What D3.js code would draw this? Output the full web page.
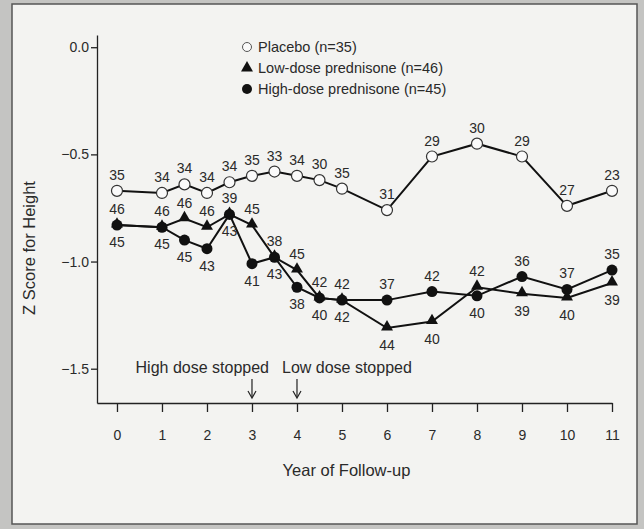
<!DOCTYPE html>
<html lang="en">
<head>
    <meta charset="UTF-8">
    <title>Z Score for Height</title>
    <script src="https://d3js.org/d3.v7.min.js"></script>
    <style>
        body { margin: 0; background: #c4c4c2; }
        svg text { font-family: "Liberation Sans Narrow", "Liberation Sans", Arial, sans-serif; fill: #2a2a2a; }
        .axis path, .axis line { stroke: #222; stroke-width: 1.3; }
        .axis text { font-size: 14px; }
    </style>
</head>
<body>
<svg width="644" height="529"></svg>
<script>
    // years of follow-up (half-year visits early on)
    const years = [0, 1, 1.5, 2, 2.5, 3, 3.5, 4, 4.5, 5, 6, 7, 8, 9, 10, 11];

    // mean Z scores
    const placebo = [-0.67, -0.68, -0.64, -0.68, -0.63, -0.60, -0.58, -0.60, -0.62, -0.66, -0.76, -0.51, -0.45, -0.51, -0.74, -0.67];
    const lowDose = [-0.83, -0.84, -0.80, -0.84, -0.78, -0.83, -0.98, -1.04, -1.17, -1.18, -1.31, -1.28, -1.12, -1.15, -1.17, -1.10];
    const highDose = [-0.83, -0.84, -0.90, -0.94, -0.78, -1.01, -0.98, -1.12, -1.17, -1.18, -1.18, -1.14, -1.16, -1.07, -1.13, -1.04];

    // number of patients at each visit
    const placeboN = [35, 34, 34, 34, 34, 35, 33, 34, 30, 35, 31, 29, 30, 29, 27, 23];
    const lowN = [46, 46, 46, 46, 39, 45, 38, 45, 42, 42, 44, 40, 42, 39, 40, 39];
    const highN = [45, 45, 45, 43, 43, 41, 43, 38, 40, 42, 37, 42, 40, 36, 37, 35];

    const legendLabels = ["Placebo (n=35)", "Low-dose prednisone (n=46)", "High-dose prednisone (n=45)"];
    const xTicks = d3.range(0, 12);
    const yTicks = [0, -0.5, -1.0, -1.5];

    const svg = d3.select("svg");

    // panel with frame
    svg.append("rect")
        .attr("x", 12).attr("y", 4)
        .attr("width", 625).attr("height", 520)
        .attr("fill", "#f3f3f1")
        .attr("stroke", "#555").attr("stroke-width", 1.5);

    const x = d3.scaleLinear().domain([-0.444, 11]).range([97, 612]);
    const y = d3.scaleLinear().domain([-1.66, 0.057]).range([403, 35]);

    // axes
    svg.append("g")
        .attr("class", "axis")
        .attr("transform", "translate(0,403)")
        .call(d3.axisBottom(x).tickValues(xTicks).tickSize(9).tickSizeOuter(0).tickPadding(18));

    svg.append("g")
        .attr("class", "axis")
        .attr("transform", "translate(97,0)")
        .call(d3.axisLeft(y).tickValues(yTicks).tickSize(6).tickSizeOuter(0).tickPadding(2)
            .tickFormat(d => d3.format(".1f")(d).replace("-", "\u2212")));

    svg.selectAll(".axis text").attr("fill", "#2a2a2a").attr("font-size", "14px");

    svg.append("text")
        .attr("x", x(5.1)).attr("y", 476)
        .attr("text-anchor", "middle")
        .attr("font-size", "16.5px")
        .text("Year of Follow-up");

    svg.append("text")
        .attr("transform", "translate(35,248) rotate(-90)")
        .attr("text-anchor", "middle")
        .attr("font-size", "16.5px")
        .text("Z Score for Height");

    // lines
    const line = d3.line().x(d => x(d[0])).y(d => y(d[1]));
    const series = [placebo, lowDose, highDose].map(v => years.map((t, i) => [t, v[i]]));
    series.forEach(s => {
        svg.append("path")
            .attr("d", line(s))
            .attr("fill", "none")
            .attr("stroke", "#111")
            .attr("stroke-width", 2);
    });

    const tri = d3.symbol().type(d3.symbolTriangle).size(62);

    // markers
    svg.selectAll(".hi").data(series[2]).enter().append("circle")
        .attr("cx", d => x(d[0])).attr("cy", d => y(d[1])).attr("r", 5.5)
        .attr("fill", "#111");
    svg.selectAll(".lo").data(series[1]).enter().append("path")
        .attr("d", tri)
        .attr("transform", d => `translate(${x(d[0])},${y(d[1]) - 1})`)
        .attr("fill", "#111");
    svg.selectAll(".pl").data(series[0]).enter().append("circle")
        .attr("cx", d => x(d[0])).attr("cy", d => y(d[1])).attr("r", 5.5)
        .attr("fill", "#fafafa").attr("stroke", "#333").attr("stroke-width", 1.2);

    // n labels
    const labels = svg.append("g").attr("font-size", "14px").attr("text-anchor", "middle");
    years.forEach((t, i) => {
        labels.append("text").attr("x", x(t)).attr("y", y(placebo[i]) - 11).text(placeboN[i]);
        const lowUp = lowDose[i] >= highDose[i];
        labels.append("text").attr("x", x(t))
            .attr("y", lowUp ? y(lowDose[i]) - 11 : y(lowDose[i]) + 22).text(lowN[i]);
        labels.append("text").attr("x", x(t))
            .attr("y", lowUp ? y(highDose[i]) + 22 : y(highDose[i]) - 11).text(highN[i]);
    });

    // legend
    const legend = svg.append("g").attr("transform", "translate(247,47)");
    legendLabels.forEach((lab, i) => {
        const g = legend.append("g").attr("transform", `translate(0,${i * 21})`);
        if (i === 0) g.append("circle").attr("r", 4.5).attr("fill", "#fafafa").attr("stroke", "#555");
        if (i === 1) g.append("path").attr("d", tri).attr("fill", "#111");
        if (i === 2) g.append("circle").attr("r", 5).attr("fill", "#111");
        g.append("text").attr("x", 11).attr("y", 5).attr("font-size", "14.5px").text(lab);
    });

    // dose stop annotations
    const notes = [
        { t: 3, text: "High dose stopped", anchor: "end", dx: 17 },
        { t: 4, text: "Low dose stopped", anchor: "start", dx: -15 }
    ];
    notes.forEach(n => {
        svg.append("text").attr("x", x(n.t) + n.dx).attr("y", 373)
            .attr("text-anchor", n.anchor).attr("font-size", "16px").text(n.text);
        svg.append("line").attr("x1", x(n.t)).attr("x2", x(n.t))
            .attr("y1", 379).attr("y2", 397).attr("stroke", "#222").attr("stroke-width", 1.2);
        svg.append("path")
            .attr("d", `M${x(n.t) - 4},${391} L${x(n.t)},${398} L${x(n.t) + 4},${391}`)
            .attr("fill", "none").attr("stroke", "#222").attr("stroke-width", 1.2);
    });
</script>
</body>
</html>
